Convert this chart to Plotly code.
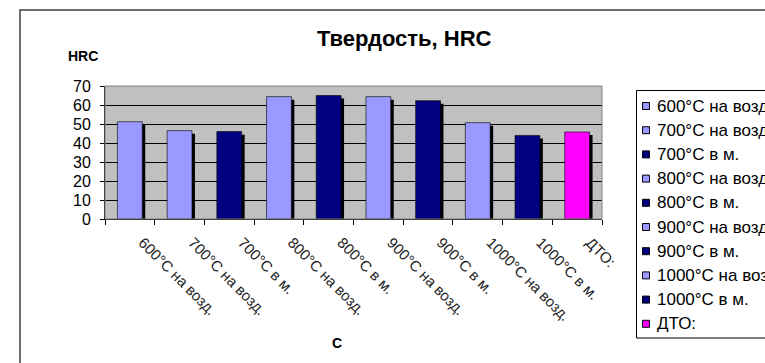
import plotly.graph_objects as go

categories = ["600°С на возд.", "700°С на возд.", "700°С в м.", "800°С на возд.",
              "800°С в м.", "900°С на возд.", "900°С в м.", "1000°С на возд.",
              "1000°С в м.", "ДТО:"]
values = [51.2, 46.5, 46.0, 64.4, 65.0, 64.4, 62.3, 50.7, 44.0, 45.8]
colors = ["#9999FF", "#9999FF", "#000080", "#9999FF", "#000080",
          "#9999FF", "#000080", "#9999FF", "#000080", "#FF00FF"]
title_text = "Твердость, HRC"
y_title = "HRC"
x_title = "С"
y_ticks = [0, 10, 20, 30, 40, 50, 60, 70]

FONT = "Liberation Sans, Arial, sans-serif"
W, H = 765, 363
L, R, T, B = 105, 163, 86, 144
pw, ph = W - L - R, H - T - B


def px(x):
    return (x - L) / pw


def py(y):
    return (H - B - y) / ph


fig = go.Figure()
# shadows
for c, v in zip(categories, values):
    fig.add_trace(go.Bar(x=[c], y=[v - 1.6], width=0.5, offset=-0.25 + 0.06,
                         marker=dict(color="black", line=dict(width=0)),
                         showlegend=False, hoverinfo="skip"))
# bars
for c, v, col in zip(categories, values, colors):
    fig.add_trace(go.Bar(x=[c], y=[v], width=0.5, offset=-0.25, name=c,
                         marker=dict(color=col, line=dict(color="black", width=0.6)),
                         showlegend=False))

shapes = [
    dict(type="rect", xref="paper", yref="paper", x0=0, x1=1, y0=0, y1=1,
         line=dict(color="#808080", width=1), layer="above"),
    dict(type="rect", xref="paper", yref="paper",
         x0=px(20), x1=2, y0=-2, y1=py(10),
         line=dict(color="#404040", width=1.5), layer="below"),
    # legend frame
    dict(type="rect", xref="paper", yref="paper",
         x0=px(636.5), x1=px(800), y0=py(338), y1=py(90.5),
         line=dict(color="black", width=1), fillcolor="white", layer="below"),
]
annotations = [
    dict(text="<b>" + title_text + "</b>", xref="paper", yref="paper",
         x=px(404), y=py(38), showarrow=False,
         xanchor="center", yanchor="middle", font=dict(size=22)),
    dict(text="<b>" + y_title + "</b>", xref="paper", yref="paper",
         x=px(83), y=py(56), showarrow=False,
         xanchor="center", yanchor="middle", font=dict(size=14)),
    dict(text="<b>" + x_title + "</b>", xref="paper", yref="paper",
         x=px(337), y=py(343), showarrow=False,
         xanchor="center", yanchor="middle", font=dict(size=14)),
]
# legend entries (built from categories/colors)
for i, (c, col) in enumerate(zip(categories, colors)):
    yc = 106 + 24.2 * i
    shapes.append(dict(type="rect", xref="paper", yref="paper",
                       x0=px(642.5), x1=px(649.5), y0=py(yc + 3.5), y1=py(yc - 3.5),
                       line=dict(color="black", width=1), fillcolor=col))
    annotations.append(dict(text=c, xref="paper", yref="paper", x=px(655), y=py(yc),
                            showarrow=False, xanchor="left", yanchor="middle",
                            font=dict(size=17)))

fig.update_layout(
    width=W, height=H,
    margin=dict(l=L, r=R, t=T, b=B, autoexpand=False),
    paper_bgcolor="white", plot_bgcolor="#C0C0C0",
    barmode="overlay",
    font=dict(family=FONT, color="black"),
    showlegend=False,
    xaxis=dict(type="category", tickson="boundaries", ticks="outside", ticklen=5,
               tickcolor="black", showline=True, linecolor="black", linewidth=1,
               showgrid=False, tickangle=45, tickfont=dict(size=15, color="#222"),
               ticklabelstandoff=8, ticklabelshift=13, range=[-0.5, 9.5]),
    yaxis=dict(range=[0, 70], tickvals=y_ticks, ticks="outside", ticklen=4,
               tickcolor="black", showline=True, linecolor="black", linewidth=1,
               showgrid=True, gridcolor="black", gridwidth=1, zeroline=False,
               tickfont=dict(size=16), ticklabelstandoff=6),
    shapes=shapes,
    annotations=annotations,
)
fig.write_html("out.html")
